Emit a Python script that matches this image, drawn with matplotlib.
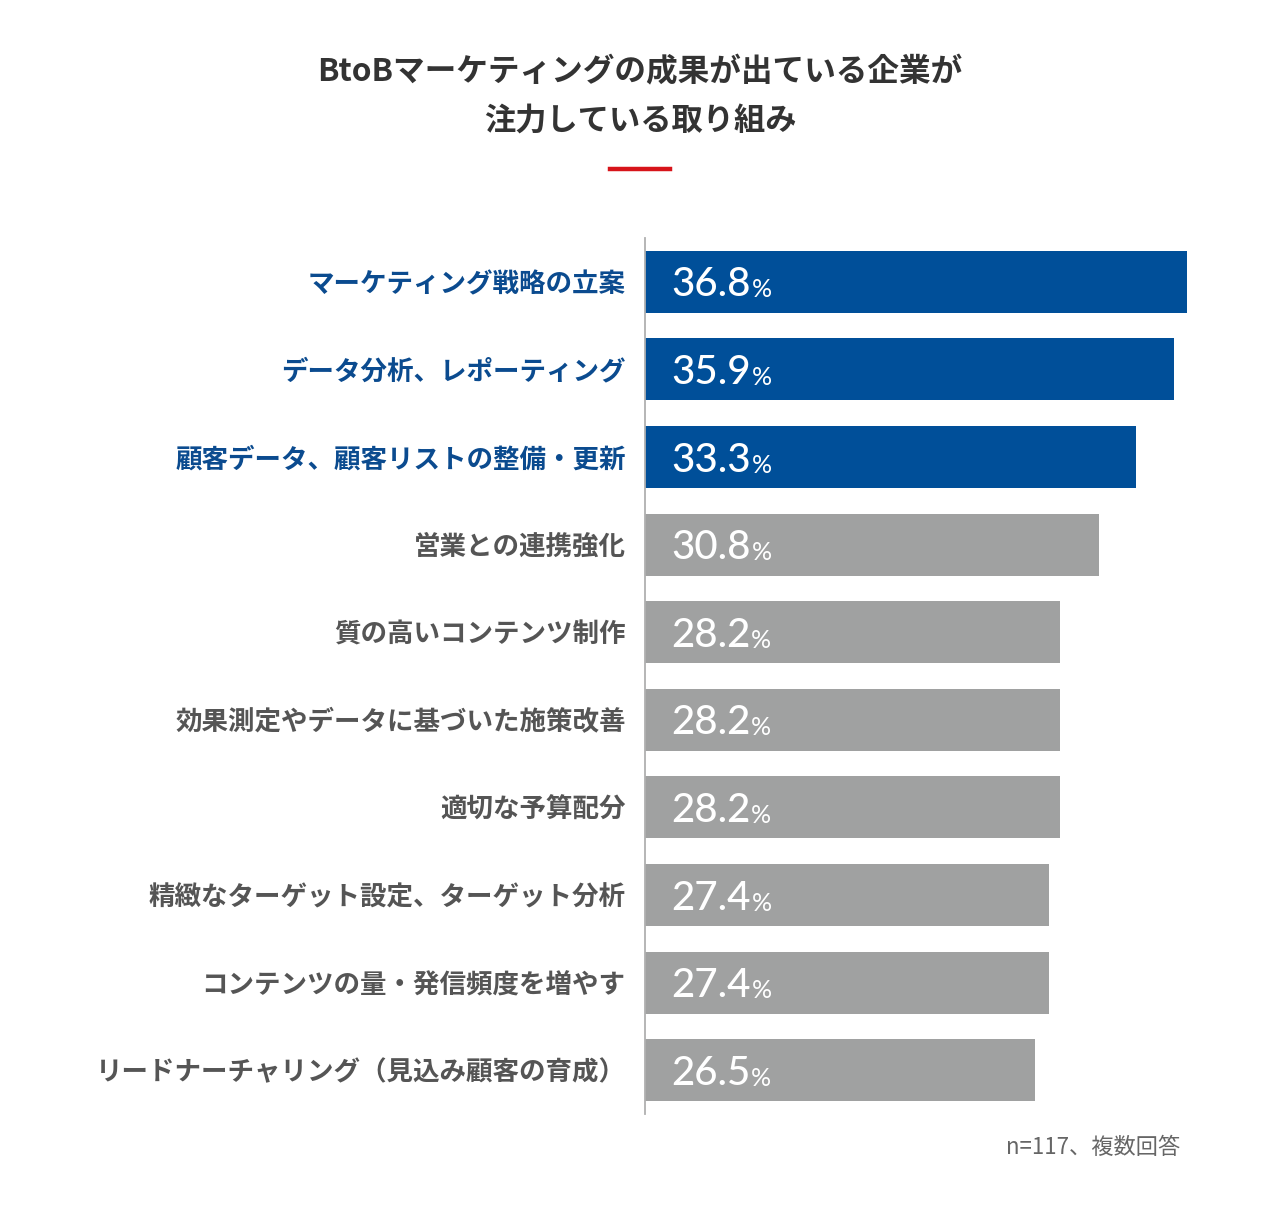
import matplotlib
matplotlib.use("Agg")
import matplotlib.pyplot as plt
from matplotlib.lines import Line2D

plt.rcParams['font.family'] = ['Noto Sans CJK JP', 'DejaVu Sans']

categories = [
    "マーケティング戦略の立案",
    "データ分析、レポーティング",
    "顧客データ、顧客リストの整備・更新",
    "営業との連携強化",
    "質の高いコンテンツ制作",
    "効果測定やデータに基づいた施策改善",
    "適切な予算配分",
    "精緻なターゲット設定、ターゲット分析",
    "コンテンツの量・発信頻度を増やす",
    "リードナーチャリング（見込み顧客の育成）",
]
values = [36.8, 35.9, 33.3, 30.8, 28.2, 28.2, 28.2, 27.4, 27.4, 26.5]
highlight = [True, True, True, False, False, False, False, False, False, False]

title_lines = ["BtoBマーケティングの成果が出ている企業が", "注力している取り組み"]
note = "n=117、複数回答"

BLUE = "#004f99"
GRAY = "#a0a1a1"
LBL_BLUE = "#0b4b8f"
LBL_GRAY = "#555555"

W, H = 1280, 1213
fig = plt.figure(figsize=(W / 100, H / 100), dpi=100)
fig.patch.set_facecolor("white")

ax_left = 645 / W
ax_bottom = (H - 1114) / H
ax_height = (1114 - 238) / H
ax_width = (40 * 14.73) / W
ax = fig.add_axes([ax_left, ax_bottom, ax_width, ax_height])

ypos = list(range(len(categories)))
colors = [BLUE if h else GRAY for h in highlight]
ax.barh(ypos, values, height=0.71, color=colors, edgecolor="none", zorder=2)
ax.set_xlim(0, 40)
ax.set_ylim(len(categories) - 0.5, -0.5)

for s in ["top", "right", "bottom"]:
    ax.spines[s].set_visible(False)
ax.spines["left"].set_color("#b0b0b0")
ax.spines["left"].set_linewidth(1.3)
ax.set_xticks([])
ax.set_yticks(ypos)
ax.set_yticklabels(categories, fontsize=19.1, fontweight="bold")
ax.tick_params(axis="y", length=0, pad=14)
for lbl, h in zip(ax.get_yticklabels(), highlight):
    lbl.set_color(LBL_BLUE if h else LBL_GRAY)

for y, v in zip(ypos, values):
    t = ax.annotate(f"{v:.1f}", xy=(0, y), xytext=(26, -3), textcoords="offset pixels",
                    ha="left", va="center", fontsize=29, color="white",
                    family=["Lato", "DejaVu Sans"], fontweight="medium")
    ax.annotate("%", xy=(1, 0.16), xycoords=t, xytext=(1, 0), textcoords="offset pixels",
                ha="left", va="baseline", fontsize=18, color="white",
                family=["Lato", "DejaVu Sans"])

fig.text(0.5, 1 - 72 / H, title_lines[0], ha="center", va="center",
         fontsize=22.8, fontweight="bold", color="#333333")
fig.text(0.5, 1 - 122 / H, title_lines[1], ha="center", va="center",
         fontsize=22.5, fontweight="bold", color="#333333")
fig.add_artist(Line2D([610 / W, 670 / W], [1 - 169 / H, 1 - 169 / H],
                      color="#d7141a", linewidth=3.2, transform=fig.transFigure))

fig.text(1180 / W, 1 - 1147 / H, note, ha="right", va="center",
         fontsize=16, color="#666666")

fig.savefig("out.png", dpi=100, facecolor="white")
